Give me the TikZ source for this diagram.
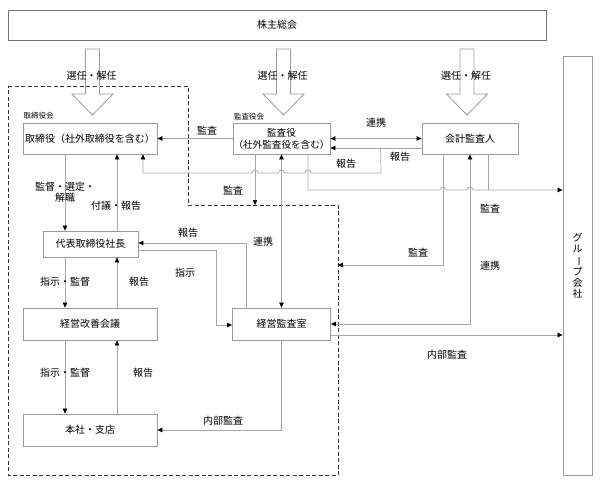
\documentclass[tikz,border=0pt]{standalone}
\usepackage{fontspec}
\setmainfont{Noto Sans CJK JP}
\usetikzlibrary{calc}
\usetikzlibrary{arrows.meta}

\begin{document}
\begin{tikzpicture}[x=1pt,y=-1pt,
  box/.style={draw=gray!80,line width=0.8pt,inner sep=0pt,font=\fontsize{10}{12}\selectfont,text=black},
  lbl/.style={font=\fontsize{10}{12}\selectfont,text=black,inner sep=0pt},
  smalllbl/.style={font=\fontsize{7.5}{9}\selectfont,text=black,inner sep=0pt},
  link/.style={draw=gray!70,line width=0.7pt},
  onearrow/.style={-{Triangle[length=5pt,width=4.5pt,color=black]}},
  twoarrow/.style={{Triangle[length=5pt,width=4.5pt,color=black]}-{Triangle[length=5pt,width=4.5pt,color=black]}},
  dashframe/.style={draw=black!80,line width=0.8pt,dash pattern=on 4pt off 2.5pt},
  hollow/.style={draw=gray!80,line width=0.8pt}]
  \useasboundingbox (0,0) rectangle (600,482);

  % boxes
  \node[box,draw=gray!90!black,minimum width=538pt,minimum height=30pt] (soukai) at (277,25) {株主総会};
  \node[box,minimum width=134pt,minimum height=31pt] (torishimari) at (90,138.5) {取締役（社外取締役を含む）};
  \node[box,minimum width=97pt,minimum height=31pt,align=center,font=\fontsize{9.6}{12}\selectfont] (kansayaku) at (281.5,138.5) {監査役\\（社外監査役を含む）};
  \node[box,minimum width=96pt,minimum height=31pt] (kaikei) at (470,138.5) {会計監査人};
  \node[box,minimum width=95pt,minimum height=26pt] (shacho) at (90.5,244) {代表取締役社長};
  \node[box,minimum width=134pt,minimum height=32pt] (kaizen) at (90,324) {経営改善会議};
  \node[box,minimum width=134pt,minimum height=32pt] (honsha) at (90,430) {本社・支店};
  \node[box,minimum width=98pt,minimum height=32pt] (kansashitsu) at (281.5,324) {経営監査室};
  \node[box,minimum width=29pt,minimum height=419pt,align=center,font=\fontsize{10}{11}\selectfont] (group) at (577.5,265.5) {グ\\ル\\\rotatebox[origin=c]{-90}{ー}\\プ\\会\\社};

  \node[smalllbl] (torikai) at (38.5,116) {取締役会};
  \node[smalllbl] (kansakai) at (249,117) {監査役会};

  % dashed company frame
  \draw[dashframe] (8,86) -- (188,86) -- (188,205) -- (338,205) -- (338,475) -- (8,475) -- cycle;
  \coordinate (notch) at (188,205);
  \coordinate (frameR) at (338,265);

  % election arrows
  \foreach \x [count=\i] in {92.5,283.5,467} {
    \draw[hollow] (\x-7,49) -- (\x-7,94) -- (\x-20.5,94) -- (\x,115) -- (\x+20.5,94) -- (\x+7,94) -- (\x+7,49) -- cycle;
    \node[lbl] (sennin\i) at (\x-1,76) {選任・解任};
  }

  % audit board links
  \draw[link,onearrow] (kansayaku.west) -- (torishimari.east);
  \node[lbl] (lkansa1) at (207,131) {監査};
  \draw[link,twoarrow] (kansayaku.east) -- (kaikei.west);
  \node[lbl] (lrenkei1) at (376,123) {連携};
  \draw[link,onearrow] ($(kaikei.west)+(0,9.5)$) -- ($(kansayaku.east)+(0,9.5)$);
  \node[lbl] (lhoukoku1) at (400,157) {報告};
  \coordinate (rep) at ($(kaikei.west)+(-41,9.5)$);
  \draw[link,onearrow] (rep) -- (381,173) -- (311,173) arc[start angle=0,end angle=180,radius=3pt]
    -- (284.5,173) arc[start angle=0,end angle=180,radius=3pt]
    -- (258,173) arc[start angle=0,end angle=180,radius=3pt]
    -- (143,173) -- ($(torishimari.south)+(53,0)$);
  \node[lbl] (lhoukoku2) at (346,164) {報告};

  \coordinate (ksA) at ($(kansayaku.south)+(-26.5,0)$);
  \draw[link,onearrow] (ksA) -- (ksA |- notch);
  \node[lbl] (lkansa2) at (233,191) {監査};
  \draw[link,twoarrow] (kansayaku.south) -- (kansashitsu.north);
  \node[lbl] (lrenkei2) at (263,242) {連携};

  \draw[link,onearrow] ($(kansayaku.south)+(26.5,0)$) -- (308,190) -- (440,190) arc[start angle=180,end angle=0,radius=3pt]
    -- (467,190) arc[start angle=180,end angle=0,radius=3pt]
    -- ($(group.west)+(0,-75.5)$);
  \draw[link] ($(kaikei.south)+(18,0)$) -- ++(0,36);
  \node[lbl] (lkansa3) at (490,209) {監査};

  % accounting auditor
  \draw[link,onearrow] ($(kaikei.south)+(-27,0)$) |- (frameR);
  \node[lbl] (lkansa4) at (418,253) {監査};
  \draw[link,twoarrow] (kaikei.south) |- (kansashitsu.east);
  \node[lbl] (lrenkei3) at (490,266) {連携};

  % internal audit
  \draw[link,onearrow] ($(kansashitsu.east)+(0,11)$) -- ($(group.west)+(0,69.5)$);
  \node[lbl] (lnaibu1) at (447,355) {内部監査};
  \draw[link,onearrow] (kansashitsu.south) |- (honsha.east);
  \node[lbl] (lnaibu2) at (223,421) {内部監査};
  \draw[link,onearrow] ($(kansashitsu.north)+(-35.5,0)$) |- ($(shacho.east)+(0,-1)$);
  \node[lbl] (lhoukoku3) at (188,233) {報告};
  \draw[link,onearrow] ($(shacho.east)+(0,6)$) -- (216,250) |- ($(kansashitsu.west)+(0,1)$);
  \node[lbl] (lshiji) at (185,273) {指示};

  % line of command
  \draw[link,onearrow] ($(torishimari.south)+(-25,0)$) -- ($(shacho.north)+(-25.5,0)$);
  \node[lbl,align=center,font=\fontsize{10}{10.5}\selectfont] (lkantoku1) at (65,192) {監督・選定・\\解職};
  \draw[link,onearrow] ($(shacho.north)+(26.5,0)$) -- ($(torishimari.south)+(27,0)$);
  \node[lbl] (lfugi) at (116,206) {付議・報告};
  \draw[link,onearrow] ($(shacho.south)+(-25.5,0)$) -- ($(kaizen.north)+(-25,0)$);
  \node[lbl] (lkantoku2) at (65,282) {指示・監督};
  \draw[link,onearrow] ($(kaizen.north)+(27,0)$) -- ($(shacho.south)+(26.5,0)$);
  \node[lbl] (lhoukoku4) at (139,282) {報告};
  \draw[link,onearrow] ($(kaizen.south)+(-25,0)$) -- ($(honsha.north)+(-25,0)$);
  \node[lbl] (lkantoku3) at (65,373) {指示・監督};
  \draw[link,onearrow] ($(honsha.north)+(27,0)$) -- ($(kaizen.south)+(27,0)$);
  \node[lbl] (lhoukoku5) at (143,373) {報告};
\end{tikzpicture}
\end{document}
